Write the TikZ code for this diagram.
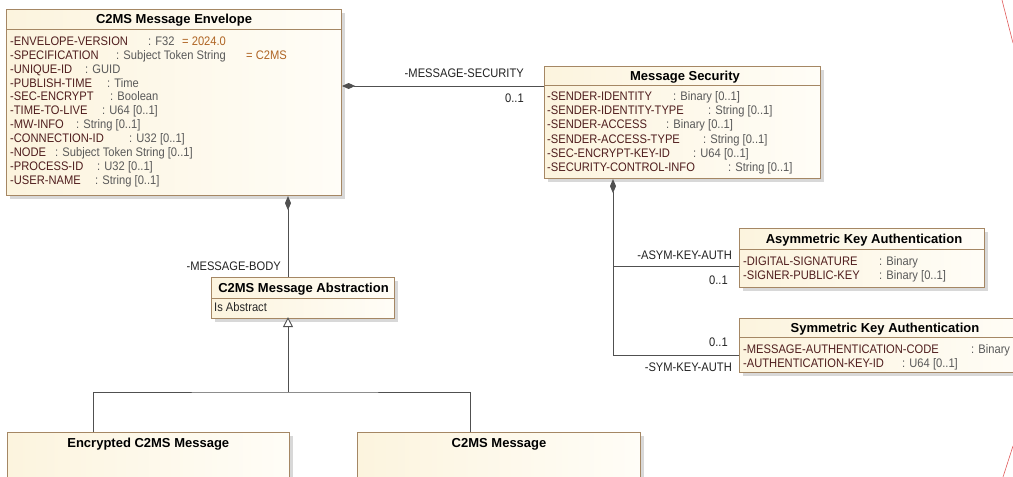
\documentclass[tikz,border=0pt]{standalone}
\usepackage{fontspec}
\usepackage{graphicx}
\setmainfont{Liberation Sans}
\usetikzlibrary{arrows.meta,shadows}
\definecolor{nmcol}{RGB}{80,30,30}
\definecolor{tycol}{RGB}{90,90,90}
\definecolor{defcol}{RGB}{175,100,35}
\definecolor{bordcol}{RGB}{165,135,100}
\definecolor{conncol}{RGB}{80,80,80}
\definecolor{lblcol}{RGB}{35,35,35}
\definecolor{fillL}{RGB}{252,244,222}
\definecolor{fillR}{RGB}{255,253,247}
\definecolor{redln}{RGB}{225,90,90}
\newcommand\sw[1]{\dimexpr #1*10/9\relax}
\newcommand\sq[1]{\scalebox{0.9}[1]{#1}}
\newcommand\attrtxt[3]{\sq{\makebox[\sw{#1}][l]{\color{nmcol}#2}{\color{tycol}#3}}}
\tikzset{
 umlbox/.style={draw=bordcol, line width=1.1pt, left color=fillL, right color=fillR, inner sep=0pt, anchor=north west,
   drop shadow={shadow xshift=3pt, shadow yshift=-3pt, fill=black!30, opacity=0.5}},
 ttl/.style={font=\fontsize{13}{15}\selectfont\bfseries, anchor=base, inner sep=0pt, text=black},
 attr/.style={font=\fontsize{12.4}{14}\selectfont, anchor=base west, inner sep=0pt},
 lbl/.style={font=\fontsize{12.4}{14}\selectfont, anchor=base east, inner sep=0pt, text=lblcol},
 conn/.style={draw=conncol, line width=0.9pt},
 divider/.style={draw=bordcol, line width=1pt},
}
\begin{document}
\begin{tikzpicture}[x=1pt,y=-1pt]
\useasboundingbox (0,0) rectangle (1013,477);
\clip (0,0) rectangle (1013,477);
\fill[white] (0,0) rectangle (1013,477);

% ---------- boxes ----------
\node[umlbox, minimum width=335pt, minimum height=186pt] (env) at (6,9) {};
\node[umlbox, minimum width=276pt, minimum height=112pt] (sec) at (544,66) {};
\node[umlbox, minimum width=245pt, minimum height=59pt] (asym) at (739,228) {};
\node[umlbox, minimum width=292pt, minimum height=54pt] (sym) at (739,318) {};
\node[umlbox, minimum width=183pt, minimum height=41pt] (abs) at (211,277) {};
\node[umlbox, minimum width=282.5pt, minimum height=80pt] (enc) at (6.5,432) {};
\node[umlbox, minimum width=283pt, minimum height=80pt] (msg) at (357,432) {};

% header dividers
\draw[divider] (env.west |- 0,29) -- (env.east |- 0,29);
\draw[divider] (sec.west |- 0,85) -- (sec.east |- 0,85);
\draw[divider] (asym.west |- 0,249) -- (asym.east |- 0,249);
\draw[divider] (sym.west |- 0,337) -- (sym.east |- 0,337);
\draw[divider] (abs.west |- 0,298) -- (abs.east |- 0,298);

% ---------- titles ----------
\node[ttl] (envT) at (env.north |- 0,23.7) {C2MS Message Envelope};
\node[ttl] (secT) at (685,80) {Message Security};
\node[ttl] (asymT) at (864,243.7) {Asymmetric Key Authentication};
\node[ttl] (symT) at (885,332.7) {Symmetric Key Authentication};
\node[ttl] (absT) at (303.5,292.7) {C2MS Message Abstraction};
\node[ttl] (encT) at (enc.north |- 0,447.7) {Encrypted C2MS Message};
\node[ttl] (msgT) at (msg.north |- 0,447.7) {C2MS Message};

% ---------- envelope attributes ----------
\node[attr] (e1) at (10,45.2) {\attrtxt{138pt}{-ENVELOPE-VERSION}{\makebox[\sw{34pt}][l]{: F32}{\color{defcol}= 2024.0}}};
\node[attr] (e2) at (10,59.1) {\attrtxt{106pt}{-SPECIFICATION}{\makebox[\sw{130pt}][l]{: Subject Token String}{\color{defcol}= C2MS}}};
\node[attr] (e3) at (10,73.1) {\attrtxt{75pt}{-UNIQUE-ID}{: GUID}};
\node[attr] (e4) at (10,87.0) {\attrtxt{97pt}{-PUBLISH-TIME}{: Time}};
\node[attr] (e5) at (10,100.9) {\attrtxt{100pt}{-SEC-ENCRYPT}{: Boolean}};
\node[attr] (e6) at (10,114.8) {\attrtxt{92pt}{-TIME-TO-LIVE}{: U64 [0..1]}};
\node[attr] (e7) at (10,128.8) {\attrtxt{66pt}{-MW-INFO}{: String [0..1]}};
\node[attr] (e8) at (10,142.7) {\attrtxt{119pt}{-CONNECTION-ID}{: U32 [0..1]}};
\node[attr] (e9) at (10,156.6) {\attrtxt{45pt}{-NODE}{: Subject Token String [0..1]}};
\node[attr] (e10) at (10,170.6) {\attrtxt{87pt}{-PROCESS-ID}{: U32 [0..1]}};
\node[attr] (e11) at (10,184.5) {\attrtxt{85pt}{-USER-NAME}{: String [0..1]}};

% ---------- security attributes ----------
\node[attr] (s1) at (547,100.5) {\attrtxt{126pt}{-SENDER-IDENTITY}{: Binary [0..1]}};
\node[attr] (s2) at (547,114.7) {\attrtxt{161pt}{-SENDER-IDENTITY-TYPE}{: String [0..1]}};
\node[attr] (s3) at (547,128.9) {\attrtxt{119pt}{-SENDER-ACCESS}{: Binary [0..1]}};
\node[attr] (s4) at (547,143.1) {\attrtxt{156pt}{-SENDER-ACCESS-TYPE}{: String [0..1]}};
\node[attr] (s5) at (547,157.3) {\attrtxt{146pt}{-SEC-ENCRYPT-KEY-ID}{: U64 [0..1]}};
\node[attr] (s6) at (547,171.5) {\attrtxt{181pt}{-SECURITY-CONTROL-INFO}{: String [0..1]}};

% ---------- key auth attributes ----------
\node[attr] (a1) at (743,265.5) {\attrtxt{136pt}{-DIGITAL-SIGNATURE}{: Binary}};
\node[attr] (a2) at (743,279.5) {\attrtxt{136pt}{-SIGNER-PUBLIC-KEY}{: Binary [0..1]}};
\node[attr] (y1) at (743,353.5) {\attrtxt{228pt}{-MESSAGE-AUTHENTICATION-CODE}{: Binary}};
\node[attr] (y2) at (743,367.5) {\attrtxt{159pt}{-AUTHENTICATION-KEY-ID}{: U64 [0..1]}};

\node[attr, text=black!85] (absA) at (214,311.5) {\sq{Is Abstract}};

% ---------- connectors ----------
\coordinate (msy) at (0,86);
\draw[conn, {Diamond[length=13pt,width=6pt]}-] (env.east |- msy) -- (sec.west |- msy);
\node[lbl] (msL) at (524,77.5) {\sq{-MESSAGE-SECURITY}};
\node[lbl] (msM) at (524,102.5) {\sq{0..1}};

\coordinate (ax) at (288,0);
\draw[conn, {Diamond[length=14pt,width=6pt]}-] (env.south -| ax) -- (abs.north -| ax);
\node[lbl] (mbL) at (281,270.5) {\sq{-MESSAGE-BODY}};

\coordinate (vx) at (613,0);
\coordinate (asy) at (0,266);
\coordinate (syy) at (0,355);
\draw[conn, {Diamond[length=14pt,width=6pt]}-] (sec.south -| vx) |- (sym.west |- syy);
\draw[conn] (vx |- asy) -- (asym.west |- asy);
\node[lbl] (akL) at (732,259.5) {\sq{-ASYM-KEY-AUTH}};
\node[lbl] (akM) at (728,284.5) {\sq{0..1}};
\node[lbl] (skM) at (728,346.5) {\sq{0..1}};
\node[lbl] (skL) at (732,371.5) {\sq{-SYM-KEY-AUTH}};

\coordinate (gj) at (288,392);
\coordinate (ex) at (93,0);
\coordinate (mx) at (470,0);
\draw[conn, -{Triangle[length=10pt,width=10pt,fill=white]}] (gj) -- ([yshift=2pt]abs.south -| gj);
\draw[conn] (enc.north -| ex) |- (gj) -| (msg.north -| mx);

% ---------- red edge lines ----------
\draw[redln, line width=0.6pt] (1002,0) -- (1013,43);
\draw[redln, line width=0.6pt] (1013,446) -- (1003,477);
\end{tikzpicture}
\end{document}
